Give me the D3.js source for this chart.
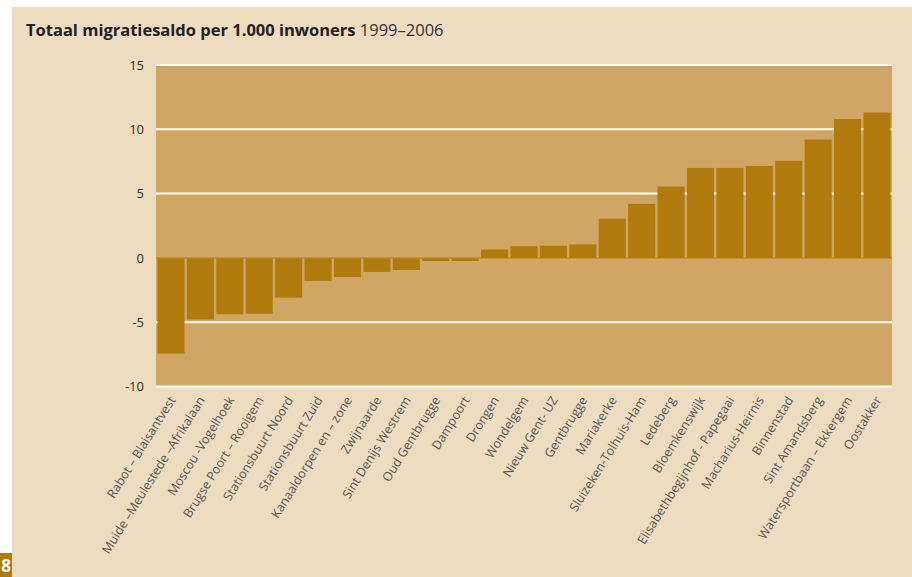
<!DOCTYPE html>
<html>
<head>
<meta charset="utf-8">
<script src="https://cdn.jsdelivr.net/npm/d3@7"></script>
<style>
  body { margin: 0; background: #fff; }
  svg { display: block; }
</style>
</head>
<body>
<div id="container"></div>
<script>
// wijken, gesorteerd van laag naar hoog
var wijken = [
  "Rabot – Blaisantvest", "Muide –Meulestede –Afrikalaan", "Moscou -Vogelhoek",
  "Brugse Poort – Rooigem", "Stationsbuurt Noord", "Stationsbuurt Zuid",
  "Kanaaldorpen en – zone", "Zwijnaarde", "Sint Denijs Westrem", "Oud Gentbrugge",
  "Dampoort", "Drongen", "Wondelgem", "Nieuw Gent- UZ", "Gentbrugge", "Mariakerke",
  "Sluizeken-Tolhuis-Ham", "Ledeberg", "Bloemkenswijk", "Elisabethbegijnhof - Papegaai",
  "Macharius-Heirnis", "Binnenstad", "Sint Amandsberg", "Watersportbaan – Ekkergem",
  "Oostakker"
];

var saldo = [
  -7.4, -4.75, -4.35, -4.3, -3.05, -1.75, -1.45, -1.05, -0.9, -0.2,
  -0.2, 0.65, 0.9, 0.95, 1.05, 3.05, 4.2, 5.55, 7.0, 7.0,
  7.15, 7.55, 9.2, 10.8, 11.3
];

var yTicks = [15, 10, 5, 0, -5, -10];

var W = 912, H = 577;
var plotLeft = 156, plotRight = 892, plotTop = 65, plotBottom = 386.5;

var svg = d3.select("#container").append("svg")
  .attr("width", W)
  .attr("height", H);

// beige paneel
svg.append("rect")
  .attr("x", 12).attr("y", 7)
  .attr("width", W - 12).attr("height", H - 7)
  .attr("fill", "#eddcbf");

// paginanummer
svg.append("rect")
  .attr("x", 0).attr("y", 553)
  .attr("width", 12).attr("height", 24)
  .attr("fill", "#b07a0c");
svg.append("text")
  .attr("x", 11).attr("y", 572)
  .attr("text-anchor", "end")
  .attr("font-family", "Open Sans")
  .attr("font-weight", "bold")
  .attr("font-size", 17)
  .attr("fill", "#fff")
  .text("8");

// titel
var title = svg.append("text")
  .attr("x", 26).attr("y", 36)
  .attr("font-family", "Open Sans")
  .attr("font-size", 16.5)
  .attr("fill", "#222");
title.append("tspan").attr("font-weight", "bold").text("Totaal migratiesaldo per 1.000 inwoners");
title.append("tspan").attr("font-weight", "normal").attr("fill", "#333").text(" 1999–2006");

var x = d3.scaleBand()
  .domain(wijken)
  .range([plotLeft, plotRight])
  .paddingInner(0.08)
  .paddingOuter(0.05);

var y = d3.scaleLinear()
  .domain([-10, 15])
  .range([plotBottom, plotTop]);

// plotvlak
svg.append("rect")
  .attr("x", plotLeft).attr("y", plotTop)
  .attr("width", plotRight - plotLeft).attr("height", plotBottom - plotTop)
  .attr("fill", "#cfa664");

// rasterlijnen
svg.selectAll("line.grid")
  .data(yTicks.filter(function(d){ return d !== 0; }))
  .enter()
  .append("line")
  .attr("class", "grid")
  .attr("x1", plotLeft).attr("x2", plotRight)
  .attr("y1", function(d){ return y(d); })
  .attr("y2", function(d){ return y(d); })
  .attr("stroke", "#fff")
  .attr("stroke-width", 2);

// nullijn
svg.append("line")
  .attr("x1", plotLeft).attr("x2", plotRight)
  .attr("y1", y(0)).attr("y2", y(0))
  .attr("stroke", "#bf8a30")
  .attr("stroke-width", 1.5);

// balken
svg.selectAll("rect.bar")
  .data(saldo)
  .enter()
  .append("rect")
  .attr("class", "bar")
  .attr("x", function(d, i){ return x(wijken[i]); })
  .attr("width", x.bandwidth())
  .attr("y", function(d){ return d >= 0 ? y(d) : y(0) + 0.5; })
  .attr("height", function(d){ return Math.abs(y(d) - y(0)); })
  .attr("fill", "#b07a0c");

// y-as (gewoon koppelteken als minteken, zoals in het origineel)
var yAxis = svg.append("g")
  .attr("transform", "translate(" + 144 + ",0)")
  .call(d3.axisLeft(y).tickValues(yTicks).tickSize(0).tickPadding(0)
    .tickFormat(function(d){ return String(d); }));
yAxis.select(".domain").remove();
yAxis.selectAll("text")
  .attr("font-family", "Open Sans")
  .attr("font-size", 13)
  .attr("fill", "#333");

// x-labels
svg.selectAll("text.cat")
  .data(wijken)
  .enter()
  .append("text")
  .attr("class", "cat")
  .attr("text-anchor", "end")
  .attr("font-family", "Open Sans")
  .attr("font-size", 12.5)
  .attr("fill", "#555")
  .attr("transform", function(d){
    return "translate(" + (x(d) + x.bandwidth() / 2 + 5) + "," + 400 + ") rotate(-58)";
  })
  .text(function(d){ return d; });
</script>
</body>
</html>
